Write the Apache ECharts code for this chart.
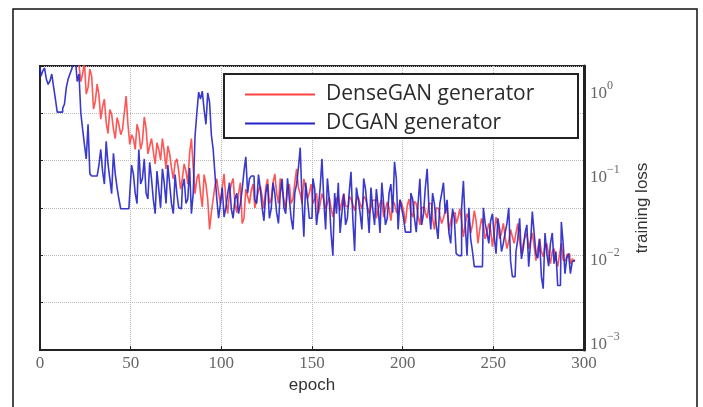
<!DOCTYPE html>
<html>
<head>
<meta charset="utf-8">
<script src="https://cdn.jsdelivr.net/npm/echarts@6/dist/echarts.min.js"></script>
<style>
  html, body { margin: 0; padding: 0; background: #fff; }
  #main { width: 703px; height: 407px; }
</style>
</head>
<body>
<div id="main"></div>
<script>
// DenseGAN generator training loss, one value per epoch 0..295
var denseLoss = [
  2.9, 2.6, 3.2, 3.1, 2.7, 2.8, 3.0, 2.5, 2.6, 2.9, 2.8, 3.0, 2.5, 2.6, 2.9, 2.8, 2.4, 2.4, 2.7, 2.6,
  2.3, 2.2, 2.05, 1.3, 1.60, 2.2, 0.92, 1.1, 1.83, 1.5, 0.61, 0.75, 1.21, 0.9, 0.46, 0.65, 0.80, 0.42, 0.31, 0.60,
  0.53, 0.35, 0.27, 0.48, 0.40, 0.30, 0.35, 0.55, 0.87, 0.40, 0.23, 0.30, 0.27, 0.20, 0.40, 0.33, 0.20, 0.25, 0.49, 0.36,
  0.177, 0.22, 0.27, 0.19, 0.134, 0.24, 0.20, 0.15, 0.27, 0.19, 0.117, 0.22, 0.177, 0.12, 0.089, 0.14, 0.154, 0.11, 0.067, 0.09,
  0.134, 0.11, 0.077, 0.18, 0.27, 0.12, 0.059, 0.09, 0.102, 0.06, 0.041, 0.10, 0.077, 0.05, 0.022, 0.035, 0.051, 0.075, 0.089, 0.06,
  0.045, 0.07, 0.102, 0.05, 0.034, 0.06, 0.077, 0.09, 0.045, 0.035, 0.059, 0.08, 0.026, 0.03, 0.067, 0.055, 0.045, 0.065, 0.077, 0.04,
  0.051, 0.065, 0.073, 0.055, 0.039, 0.07, 0.089, 0.045, 0.051, 0.08, 0.102, 0.06, 0.045, 0.09, 0.067, 0.05, 0.039, 0.065, 0.077, 0.045,
  0.051, 0.08, 0.117, 0.07, 0.059, 0.045, 0.089, 0.07, 0.051, 0.06, 0.077, 0.045, 0.051, 0.06, 0.034, 0.045, 0.059, 0.05, 0.039, 0.045,
  0.054, 0.04, 0.031, 0.045, 0.051, 0.055, 0.037, 0.048, 0.059, 0.042, 0.041, 0.055, 0.051, 0.044, 0.037, 0.05, 0.054, 0.045, 0.039, 0.055,
  0.051, 0.042, 0.034, 0.04, 0.049, 0.05, 0.030, 0.038, 0.045, 0.05, 0.031, 0.038, 0.047, 0.04, 0.028, 0.048, 0.045, 0.036, 0.034, 0.05,
  0.045, 0.037, 0.026, 0.042, 0.051, 0.035, 0.031, 0.048, 0.045, 0.032, 0.025, 0.04, 0.041, 0.035, 0.030, 0.045, 0.045, 0.03, 0.022, 0.04,
  0.039, 0.032, 0.026, 0.03, 0.037, 0.04, 0.021, 0.028, 0.034, 0.035, 0.026, 0.03, 0.039, 0.028, 0.018, 0.025, 0.034, 0.03, 0.020, 0.025,
  0.037, 0.028, 0.015, 0.022, 0.030, 0.025, 0.017, 0.02, 0.026, 0.022, 0.0137, 0.02, 0.031, 0.024, 0.017, 0.02, 0.026, 0.018, 0.013, 0.016,
  0.022, 0.018, 0.015, 0.02, 0.026, 0.016, 0.0113, 0.015, 0.018, 0.02, 0.013, 0.016, 0.020, 0.014, 0.0093, 0.013, 0.017, 0.012, 0.0104, 0.014,
  0.015, 0.011, 0.0086, 0.012, 0.013, 0.01, 0.0079, 0.011, 0.015, 0.0095, 0.0093, 0.011, 0.0113, 0.0085, 0.0098, 0.0092
];

// DCGAN generator training loss, one value per epoch 0..295
var dcLoss = [
  1.94, 1.5, 1.73, 1.9, 1.39, 1.2, 1.32, 1.6, 1.12, 0.80, 0.56, 0.56, 0.56, 0.62, 0.70, 1.10, 1.39, 1.6, 1.83, 2.2,
  2.5, 1.3, 1.60, 0.55, 0.35, 0.23, 0.154, 0.40, 0.102, 0.096, 0.096, 0.096, 0.096, 0.13, 0.20, 0.11, 0.077, 0.25, 0.134, 0.09,
  0.059, 0.18, 0.102, 0.07, 0.051, 0.039, 0.039, 0.039, 0.039, 0.039, 0.059, 0.13, 0.102, 0.06, 0.045, 0.20, 0.077, 0.09, 0.154, 0.06,
  0.051, 0.14, 0.089, 0.05, 0.034, 0.11, 0.067, 0.04, 0.117, 0.08, 0.045, 0.13, 0.077, 0.045, 0.034, 0.10, 0.059, 0.04, 0.039, 0.07,
  0.089, 0.045, 0.051, 0.12, 0.034, 0.06, 0.29, 0.55, 0.97, 0.80, 1.0, 0.60, 0.40, 0.95, 0.74, 0.30, 0.20, 0.10, 0.051, 0.03,
  0.045, 0.07, 0.031, 0.04, 0.059, 0.08, 0.039, 0.03, 0.051, 0.06, 0.034, 0.045, 0.067, 0.11, 0.163, 0.06, 0.089, 0.096, 0.096, 0.05,
  0.045, 0.10, 0.067, 0.04, 0.028, 0.06, 0.077, 0.03, 0.039, 0.08, 0.059, 0.035, 0.026, 0.06, 0.089, 0.04, 0.034, 0.09, 0.051, 0.03,
  0.022, 0.06, 0.077, 0.12, 0.21, 0.05, 0.018, 0.08, 0.051, 0.03, 0.030, 0.09, 0.067, 0.025, 0.039, 0.07, 0.154, 0.05, 0.022, 0.09,
  0.051, 0.02, 0.0107, 0.06, 0.034, 0.08, 0.020, 0.035, 0.059, 0.025, 0.030, 0.06, 0.108, 0.03, 0.0122, 0.07, 0.051, 0.035, 0.022, 0.09,
  0.067, 0.04, 0.020, 0.07, 0.039, 0.025, 0.067, 0.04, 0.020, 0.08, 0.045, 0.025, 0.030, 0.06, 0.077, 0.035, 0.142, 0.09, 0.022, 0.05,
  0.039, 0.03, 0.0205, 0.0205, 0.0205, 0.06, 0.051, 0.03, 0.0205, 0.045, 0.089, 0.025, 0.034, 0.07, 0.117, 0.04, 0.022, 0.06, 0.045, 0.025,
  0.017, 0.045, 0.059, 0.08, 0.034, 0.05, 0.020, 0.015, 0.039, 0.03, 0.0113, 0.0107, 0.0107, 0.04, 0.084, 0.025, 0.0107, 0.04, 0.017, 0.012,
  0.0079, 0.0079, 0.0079, 0.0079, 0.0079, 0.04, 0.026, 0.02, 0.015, 0.028, 0.034, 0.018, 0.0113, 0.03, 0.022, 0.012, 0.015, 0.02, 0.026, 0.04,
  0.0093, 0.006, 0.0060, 0.012, 0.017, 0.03, 0.0098, 0.013, 0.020, 0.025, 0.0079, 0.015, 0.036, 0.02, 0.0113, 0.01, 0.017, 0.006, 0.0043, 0.02,
  0.0113, 0.008, 0.015, 0.02, 0.0086, 0.012, 0.0047, 0.0047, 0.027, 0.015, 0.0065, 0.01, 0.0113, 0.0065, 0.0090, 0.0095
];

var epochs = [];
for (var i = 0; i < denseLoss.length; i++) {
  epochs.push(i);
}

var xTicks = [0, 50, 100, 150, 200, 250, 300];
var expLabels = { '0': '0', '-1': '−1', '-2': '−2', '-3': '−3' };

function toPairs(vals) {
  var out = [];
  for (var i = 0; i < vals.length; i++) {
    out.push([epochs[i], Math.log10(vals[i])]);
  }
  return out;
}

var chartDom = document.getElementById('main');
var myChart = echarts.init(chartDom, null, { renderer: 'canvas' });
var option;

option = {
  backgroundColor: '#fff',
  animation: false,
  graphic: [
    {
      type: 'rect',
      shape: { x: 13, y: 9, width: 684, height: 430 },
      style: { fill: 'none', stroke: '#111', lineWidth: 1.5 },
      silent: true
    }
  ],
  grid: {
    left: 40,
    top: 66,
    right: 119,
    bottom: 57,
    show: true,
    borderColor: '#222',
    borderWidth: 2
  },
  legend: {
    orient: 'vertical',
    left: 224,
    top: 74,
    padding: [8, 16, 2, 21],
    itemGap: 4,
    itemWidth: 70,
    itemHeight: 2,
    icon: 'rect',
    backgroundColor: '#fff',
    borderColor: '#222',
    borderWidth: 2,
    borderRadius: 0,
    textStyle: {
      fontFamily: 'Open Sans',
      fontSize: 21,
      color: '#2a2a2a',
      padding: [0, 0, 0, 6],
      width: 236,
      lineHeight: 25
    },
    data: ['DenseGAN generator', 'DCGAN generator']
  },
  xAxis: {
    type: 'value',
    min: 0,
    max: 300,
    interval: 50,
    name: 'epoch',
    nameLocation: 'middle',
    nameGap: 25,
    nameTextStyle: { fontFamily: 'Liberation Sans', fontSize: 17, color: '#333' },
    axisLine: { show: true, lineStyle: { color: '#222', width: 2 } },
    axisTick: { show: true, inside: true, length: 4, lineStyle: { color: '#222' } },
    axisLabel: {
      margin: 5,
      fontFamily: 'Liberation Serif',
      fontSize: 17,
      color: '#666',
      formatter: function (v) { return xTicks.indexOf(v) >= 0 ? String(v) : ''; }
    },
    splitLine: { show: true, lineStyle: { type: 'dotted', color: '#bbb', width: 1 } }
  },
  yAxis: [
    {
      type: 'value',
      position: 'left',
      min: 0,
      max: 6,
      interval: 1,
      axisLine: { show: true, lineStyle: { color: '#222', width: 2 } },
      axisTick: { show: true, inside: true, length: 3, lineStyle: { color: '#222' } },
      axisLabel: { show: false },
      splitLine: { show: true, lineStyle: { type: 'dotted', color: '#bbb', width: 1 } }
    },
    {
      type: 'value',
      position: 'right',
      min: -3.1,
      max: 0.3,
      interval: 0.1,
      name: 'training loss',
      nameLocation: 'middle',
      nameRotate: 90,
      nameGap: 50,
      nameTextStyle: { fontFamily: 'Liberation Sans', fontSize: 17, color: '#333' },
      axisLine: { show: true, lineStyle: { color: '#222', width: 3 } },
      axisTick: { show: false },
      axisLabel: {
        margin: 6,
        color: '#666',
        formatter: function (v) {
          var r = Math.round(v);
          if (Math.abs(v - r) < 1e-6 && expLabels[String(r)]) {
            return '{b|10}{s|' + expLabels[String(r)] + '}';
          }
          return '';
        },
        rich: {
          b: { fontFamily: 'Liberation Serif', fontSize: 17, color: '#666', lineHeight: 22, verticalAlign: 'bottom' },
          s: { fontFamily: 'Liberation Serif', fontSize: 12, color: '#666', lineHeight: 22, verticalAlign: 'top' }
        }
      },
      splitLine: { show: false }
    }
  ],
  series: [
    {
      name: 'DenseGAN generator',
      type: 'line',
      yAxisIndex: 1,
      step: 'middle',
      showSymbol: false,
      color: '#ff4343',
      lineStyle: { width: 1.6, color: '#ff4343', opacity: 0.9 },
      data: toPairs(denseLoss)
    },
    {
      name: 'DCGAN generator',
      type: 'line',
      yAxisIndex: 1,
      step: 'middle',
      showSymbol: false,
      color: '#2424c8',
      lineStyle: { width: 1.6, color: '#2424c8', opacity: 0.9 },
      data: toPairs(dcLoss)
    }
  ]
};
option && myChart.setOption(option);
</script>
</body>
</html>
